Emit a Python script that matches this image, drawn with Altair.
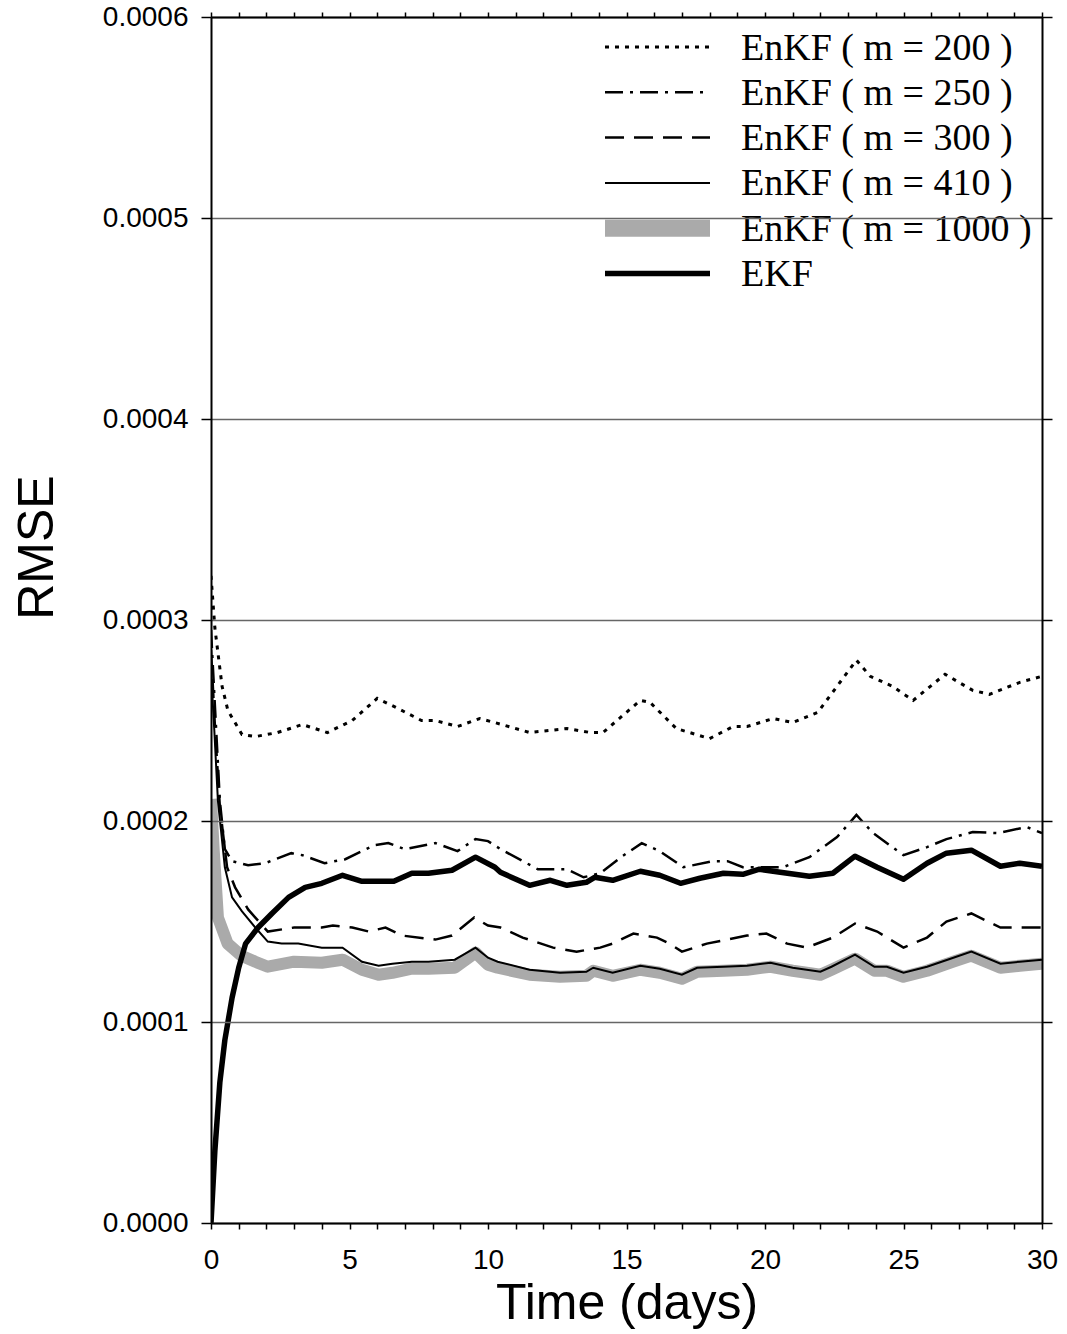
import altair as alt
import pandas as pd

# RMSE time series, time in days, RMSE in units of 1e-4
T_M200 = [0, 0.14, 0.4, 0.61, 1.12, 1.6, 2.4, 3.3, 4.2, 5.1, 6.0, 6.6, 7.6, 8.1, 8.9, 9.7,
          10.5, 11.5, 12.85, 13.7, 14.15, 15.5, 15.85, 16.8, 18.0, 18.85, 19.35, 20.3, 21.0,
          21.9, 23.3, 23.8, 24.6, 25.35, 26.5, 27.5, 28.1, 29.2, 30.0]
V_M200 = [3.22, 2.96, 2.67, 2.55, 2.43, 2.42, 2.44, 2.48, 2.44, 2.50, 2.61, 2.57, 2.50, 2.50,
          2.47, 2.51, 2.48, 2.44, 2.46, 2.44, 2.44, 2.60, 2.59, 2.46, 2.41, 2.47, 2.47, 2.51,
          2.49, 2.54, 2.80, 2.72, 2.67, 2.60, 2.73, 2.65, 2.63, 2.69, 2.72]

T_M250 = [0, 0.15, 0.32, 0.5, 0.76, 1.34, 1.95, 2.9, 3.3, 4.1, 4.85, 5.9, 6.4, 7.0, 8.1, 8.9,
          9.55, 10.0, 10.45, 11.8, 12.85, 13.45, 14.05, 14.8, 15.55, 16.2, 17.05, 18.1, 18.65,
          19.2, 20.3, 20.65, 21.6, 22.6, 23.3, 23.9, 25.0, 25.85, 26.55, 27.5, 28.4, 29.45, 30.0]
V_M250 = [2.95, 2.55, 2.10, 1.86, 1.80, 1.78, 1.79, 1.84, 1.83, 1.79, 1.81, 1.88, 1.89, 1.86,
          1.89, 1.85, 1.91, 1.90, 1.86, 1.76, 1.76, 1.72, 1.74, 1.82, 1.89, 1.85, 1.77, 1.80,
          1.80, 1.77, 1.77, 1.77, 1.82, 1.92, 2.03, 1.94, 1.83, 1.87, 1.91, 1.945, 1.94, 1.97, 1.94]

T_M300 = [0, 0.15, 0.32, 0.58, 0.87, 1.34, 2.05, 3.0, 4.0, 4.4, 5.1, 5.7, 6.3, 6.9, 8.1, 8.7,
          9.5, 10.0, 10.45, 11.25, 12.35, 13.2, 14.05, 14.5, 15.25, 16.1, 16.55, 17.0, 17.9,
          18.65, 19.35, 20.05, 20.8, 21.5, 22.45, 23.25, 24.05, 25.0, 25.85, 26.55, 27.45, 28.5, 30.0]
V_M300 = [2.85, 2.45, 2.07, 1.77, 1.67, 1.56, 1.45, 1.47, 1.47, 1.48, 1.47, 1.45, 1.47, 1.43,
          1.41, 1.43, 1.52, 1.48, 1.47, 1.42, 1.37, 1.35, 1.37, 1.39, 1.44, 1.42, 1.39, 1.35,
          1.39, 1.41, 1.43, 1.44, 1.39, 1.37, 1.42, 1.49, 1.45, 1.37, 1.42, 1.50, 1.54, 1.47, 1.47]

T_M410 = [0, 0.12, 0.25, 0.5, 0.76, 1.12, 1.6, 2.05, 2.55, 3.15, 4.0, 4.75, 5.45, 6.05, 6.55,
          7.25, 7.85, 8.8, 9.55, 10.0, 10.35, 11.5, 12.6, 13.55, 13.8, 14.5, 15.5, 16.2, 17.0,
          17.55, 18.5, 19.35, 20.2, 21.0, 22.0, 22.4, 23.25, 23.95, 24.4, 25.0, 25.85, 26.8,
          27.45, 28.5, 29.2, 30.0]
V_M410 = [2.75, 2.45, 2.10, 1.77, 1.62, 1.55, 1.47, 1.40, 1.39, 1.39, 1.37, 1.37, 1.30, 1.28,
          1.29, 1.30, 1.30, 1.31, 1.37, 1.32, 1.30, 1.26, 1.245, 1.25, 1.27, 1.245, 1.28, 1.265,
          1.235, 1.27, 1.275, 1.28, 1.295, 1.27, 1.25, 1.275, 1.335, 1.275, 1.275, 1.245, 1.275,
          1.32, 1.35, 1.29, 1.30, 1.31]

T_M1000 = [0, 0.1, 0.25, 0.6, 1.1, 1.6, 2.05, 3.0, 4.0, 4.75, 5.45, 6.05, 6.55, 7.25, 7.85,
           8.8, 9.55, 10.0, 10.35, 11.5, 12.6, 13.55, 13.8, 14.5, 15.5, 16.2, 17.0, 17.55, 18.5,
           19.35, 20.2, 21.0, 22.0, 22.4, 23.25, 23.95, 24.4, 25.0, 25.85, 26.8, 27.45, 28.5,
           29.2, 30.0]
V_M1000 = [2.11, 1.85, 1.52, 1.39, 1.33, 1.30, 1.275, 1.30, 1.295, 1.31, 1.26, 1.235, 1.245,
           1.265, 1.265, 1.27, 1.345, 1.285, 1.27, 1.235, 1.225, 1.23, 1.255, 1.23, 1.26, 1.245,
           1.215, 1.25, 1.255, 1.26, 1.275, 1.255, 1.235, 1.26, 1.315, 1.255, 1.255, 1.225,
           1.255, 1.30, 1.33, 1.27, 1.28, 1.29]

T_EKF = [0, 0.14, 0.32, 0.5, 0.76, 1.0, 1.25, 1.7, 2.2, 2.8, 3.4, 4.0, 4.75, 5.45, 6.6, 7.25,
         7.85, 8.7, 9.55, 10.25, 10.45, 11.5, 12.25, 12.85, 13.55, 13.85, 14.5, 15.5, 16.2,
         16.95, 17.65, 18.5, 19.2, 19.8, 20.55, 21.6, 22.45, 23.25, 24.05, 25.0, 25.85, 26.55,
         27.45, 28.5, 29.2, 30.0]
V_EKF = [0.0, 0.36, 0.70, 0.91, 1.12, 1.27, 1.39, 1.47, 1.54, 1.62, 1.67, 1.69, 1.73, 1.70,
         1.70, 1.74, 1.74, 1.755, 1.82, 1.77, 1.745, 1.68, 1.705, 1.68, 1.695, 1.72, 1.705,
         1.75, 1.73, 1.69, 1.715, 1.74, 1.735, 1.76, 1.745, 1.725, 1.74, 1.825, 1.77, 1.71,
         1.79, 1.84, 1.855, 1.775, 1.79, 1.775]

LEGEND_LABELS = ["EnKF ( m = 200 )", "EnKF ( m = 250 )", "EnKF ( m = 300 )",
                 "EnKF ( m = 410 )", "EnKF ( m = 1000 )", "EKF"]

X_TICKS = list(range(0, 31))
Y_TICKS = [0.0, 0.0001, 0.0002, 0.0003, 0.0004, 0.0005, 0.0006]
UNIT = 1e-4

W, H = 831, 1206
SANS = "Liberation Sans"
SERIF = "Liberation Serif"

x_scale = alt.Scale(domain=[0, 30], nice=False, zero=False)
y_scale = alt.Scale(domain=[0, 0.0006], nice=False)


def frame(t, v):
    return pd.DataFrame({"t": t, "rmse": [val * UNIT for val in v]})


axis_common = dict(domainColor="black", domainWidth=2, tickColor="black", tickWidth=1.5,
                   labelFont=SANS, labelFontSize=28, labelColor="black",
                   titleFont=SANS, titleFontSize=50, titleFontWeight="normal",
                   titleColor="black", labelFlush=False, labelOverlap=False, zindex=1)

bottom_axis = alt.Axis(orient="bottom", values=X_TICKS, format="d",
                       labelExpr="datum.value % 5 === 0 ? datum.label : ''",
                       title="Time (days)", tickSize=6, labelPadding=39,
                       labelBaseline="alphabetic", titleY=95, titleBaseline="alphabetic",
                       grid=False, **axis_common)
left_axis = alt.Axis(orient="left", values=Y_TICKS, format=".4f", title="RMSE",
                     tickSize=10, labelPadding=13, grid=True, gridColor="#666666",
                     gridWidth=1.3, titleAngle=270, titleX=-159, titleY=530,
                     titleAlign="center", titleBaseline="alphabetic", **axis_common)
top_axis = alt.Axis(orient="top", values=X_TICKS, labels=False, title=None, tickSize=5,
                    grid=False, domainColor="black", domainWidth=2, tickColor="black",
                    tickWidth=1.5, zindex=1)
right_axis = alt.Axis(orient="right", values=Y_TICKS, labels=False, title=None, tickSize=10,
                      grid=False, domainColor="black", domainWidth=2, tickColor="black",
                      tickWidth=1.5, zindex=1)


def series(t, v, x_axis=None, y_axis=None, **style):
    return alt.Chart(frame(t, v)).mark_line(clip=True, **style).encode(
        x=alt.X("t:Q", scale=x_scale, axis=x_axis),
        y=alt.Y("rmse:Q", scale=y_scale, axis=y_axis),
    )


STYLES = [
    dict(color="black", strokeWidth=3, strokeDash=[4, 6]),
    dict(color="black", strokeWidth=2.5, strokeDash=[18, 7, 3, 7]),
    dict(color="black", strokeWidth=2.5, strokeDash=[19, 10]),
    dict(color="black", strokeWidth=2),
    dict(color="#aaaaaa", strokeWidth=12),
    dict(color="black", strokeWidth=5.5),
]

gray = series(T_M1000, V_M1000, bottom_axis, left_axis, **STYLES[4], strokeJoin="round")
outer = series(T_M1000, V_M1000, top_axis, right_axis, opacity=0)
m410 = series(T_M410, V_M410, **STYLES[3])
m300 = series(T_M300, V_M300, **STYLES[2])
m250 = series(T_M250, V_M250, **STYLES[1])
m200 = series(T_M200, V_M200, **STYLES[0])
ekf = series(T_EKF, V_EKF, **STYLES[5], strokeJoin="round")

# legend block in the upper right of the plot
LEG_X0, LEG_X1, LEG_TX = 394, 499, 530
LEG_TOP, LEG_STEP = 30, 45.3
legend_layers = []
for i, st in enumerate(STYLES):
    ry = LEG_TOP + i * LEG_STEP
    sw = 17 if i == 4 else st["strokeWidth"]
    rule_style = {k: val for k, val in st.items() if k != "strokeWidth"}
    legend_layers.append(
        alt.Chart(pd.DataFrame({"k": [i]})).mark_rule(strokeWidth=sw, **rule_style).encode(
            x=alt.value(LEG_X0), x2=alt.value(LEG_X1), y=alt.value(ry)
        )
    )
legend_text = alt.Chart(pd.DataFrame({
    "label": LEGEND_LABELS,
    "py": [LEG_TOP + i * LEG_STEP + 12.5 for i in range(len(LEGEND_LABELS))],
})).mark_text(align="left", baseline="alphabetic", font=SERIF, fontSize=38,
              color="black").encode(
    x=alt.value(LEG_TX),
    y=alt.Y("py:Q", scale=None),
    text="label:N",
)

chart = alt.layer(
    gray, outer, m410, m300, m250, m200, ekf, *legend_layers, legend_text
).resolve_axis(
    x="independent", y="independent"
).properties(
    width=W, height=H,
    autosize=alt.AutoSizeParams(type="none"),
    padding={"left": 211, "top": 17, "right": 25, "bottom": 111},
).configure_view(stroke=None).configure(background="white")

chart.save("out.html", embed_options={"renderer": "svg", "actions": False})
